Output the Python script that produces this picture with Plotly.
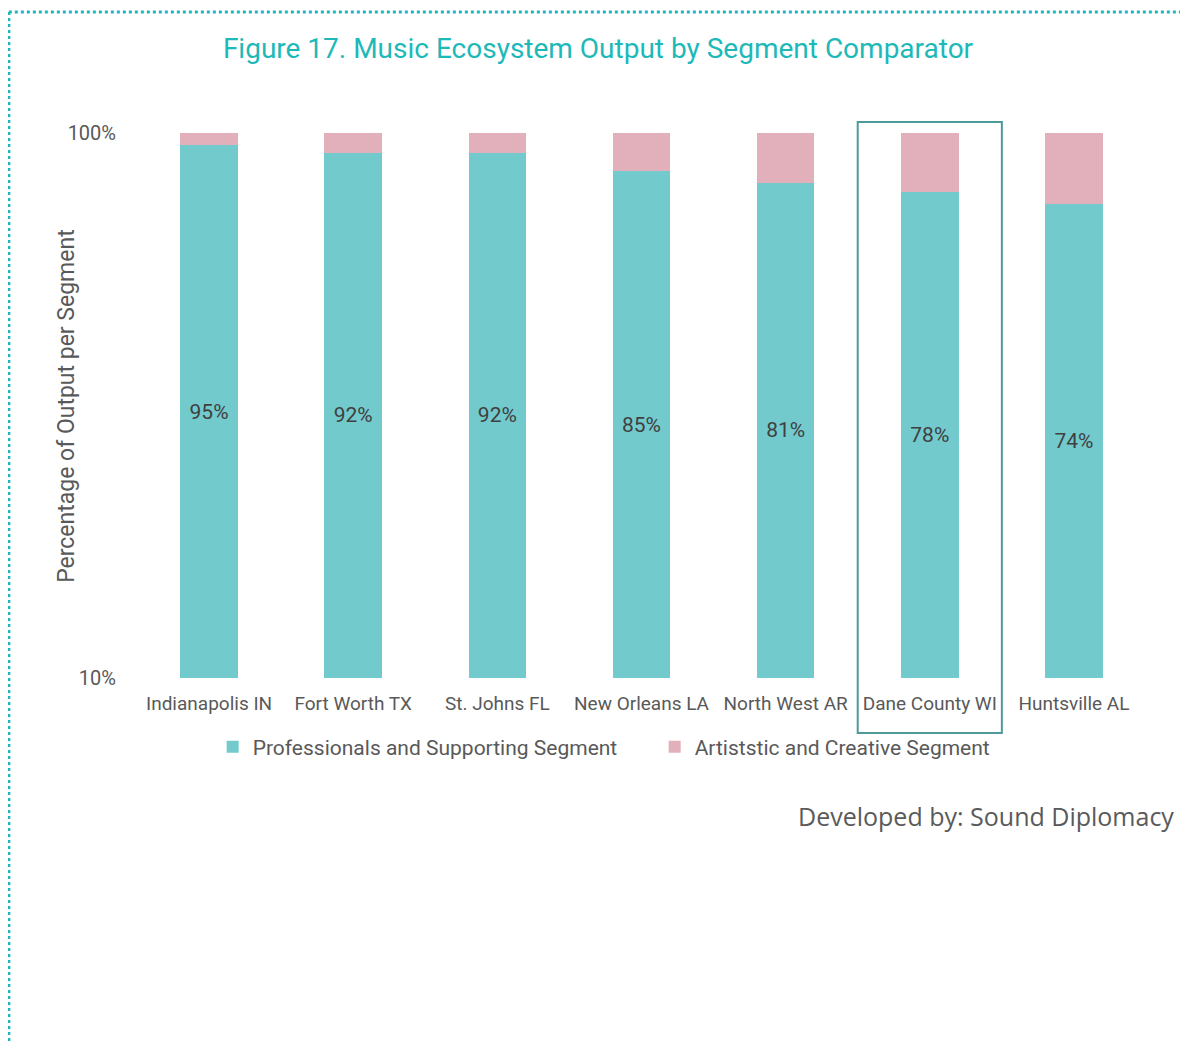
import plotly.graph_objects as go

# regions compared in the chart
regions = ["Indianapolis IN", "Fort Worth TX", "St. Johns FL", "New Orleans LA",
           "North West AR", "Dane County WI", "Huntsville AL"]

# share of output (fractions)
professional = [0.95, 0.92, 0.92, 0.85, 0.81, 0.78, 0.74]
artistic = [0.05, 0.08, 0.08, 0.15, 0.19, 0.22, 0.26]

prof_labels = ["95%", "92%", "92%", "85%", "81%", "78%", "74%"]

TEAL = "#72CACD"
PINK = "#E1B0BA"
GREY = "#595959"

fig = go.Figure()

fig.add_trace(go.Bar(
    x=regions, y=professional, name="Professionals and Supporting Segment",
    marker=dict(color=TEAL, line=dict(width=0)),
    text=prof_labels, textposition="inside", insidetextanchor="middle",
    textfont=dict(color="#404040", size=21), textangle=0,
))
fig.add_trace(go.Bar(
    x=regions, y=artistic, name="Artiststic and Creative Segment",
    marker=dict(color=PINK, line=dict(width=0)),
))

# highlight box around Dane County WI
fig.add_shape(type="rect", xref="x", yref="paper",
              x0=4.5, x1=5.5, y0=-0.101, y1=1.02,
              line=dict(color="#4E9A9A", width=2), fillcolor="rgba(0,0,0,0)")

# dotted frame of the page
fig.add_shape(type="line", xref="paper", yref="paper",
              x0=-0.127, x1=-0.127, y0=1.222, y1=-0.68,
              line=dict(color="#1BB9BF", width=3, dash="dot"))
fig.add_shape(type="line", xref="paper", yref="paper",
              x0=-0.127, x1=1.05, y0=1.222, y1=1.222,
              line=dict(color="#1BB9BF", width=3, dash="dot"))

# y axis title as annotation so it can sit close to the tick labels
fig.add_annotation(text="Percentage of Output per Segment", xref="paper", yref="paper",
                   x=-0.07, y=0.5, textangle=-90, showarrow=False,
                   xanchor="center", yanchor="middle",
                   font=dict(size=23, color=GREY))

fig.add_annotation(text="Developed by: Sound Diplomacy", xref="paper", yref="paper",
                   x=1.0297, y=-0.253, xanchor="right", yanchor="middle", showarrow=False,
                   font=dict(family="Open Sans", size=25, color="#5a5a5a"))

fig.update_layout(
    width=1180, height=1036,
    margin=dict(l=129, r=42, t=125, b=366),
    barmode="stack", bargap=0.6,
    paper_bgcolor="white", plot_bgcolor="white",
    font=dict(family="Roboto", color=GREY, size=18),
    title=dict(text="Figure 17. Music Ecosystem Output by Segment Comparator",
               x=0.5, xref="container", xanchor="center", y=0.9614, yanchor="middle",
               font=dict(family="Roboto", size=28, color="#1DB9B9")),
    showlegend=True,
    legend=dict(orientation="h", x=0.075, xanchor="left", y=-0.1266, yanchor="middle",
                font=dict(size=21, color=GREY), traceorder="normal",
                bgcolor="rgba(0,0,0,0)",
                itemwidth=30, entrywidthmode="pixels", entrywidth=397),
    xaxis=dict(showline=False, ticks="", tickfont=dict(size=19, color=GREY),
               ticklabelstandoff=12),
    yaxis=dict(type="log", range=[-1, 0], tickvals=[0.1, 1], ticktext=["10%", "100%"],
               showgrid=True, gridcolor="#D9D9D9", gridwidth=2, zeroline=False,
               showline=False, tickfont=dict(size=20, color=GREY), ticklabelstandoff=20),
    hovermode="closest",
)

fig.write_html("out.html")
